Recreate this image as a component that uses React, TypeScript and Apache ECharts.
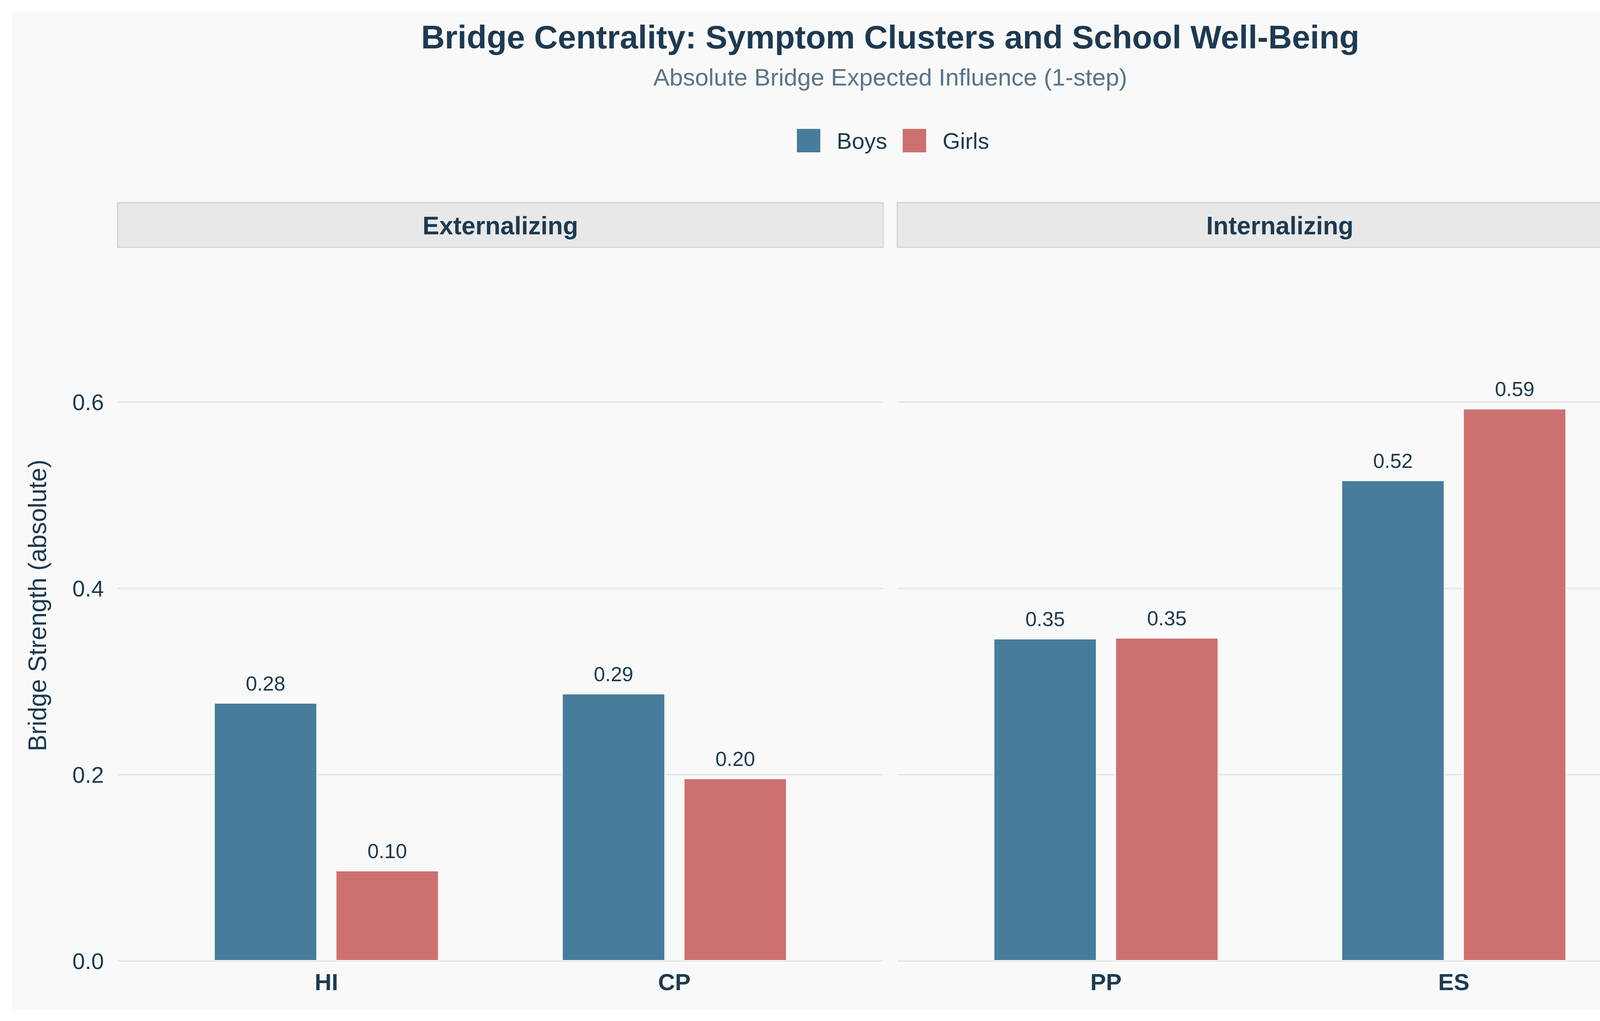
import { useEffect, useRef } from "react";
import * as echarts from "echarts";

// facet panels and their symptom clusters
const facets = ["Externalizing", "Internalizing"];
const categoriesExt = ["HI", "CP"];
const categoriesInt = ["PP", "ES"];

// bridge strength values
const boysExt = [0.277, 0.287];
const girlsExt = [0.097, 0.196];
const boysInt = [0.346, 0.516];
const girlsInt = [0.347, 0.593];

const groups = ["Boys", "Girls"];
const yTickMax = 0.6;
const yTickStep = 0.2;

const FONT = "'Liberation Sans', Arial, Helvetica, sans-serif";
const NAVY = "#1d3a51";
const BLUE = "#477d9b";
const RED = "#cc7170";
const GRID = "#e3e3e3";

// layout (px)
const PANEL_TOP = 1029.5;
const PANEL_BOTTOM = 2460;
const panelsX = [
    { left: 301, right: 2261 },
    { left: 2297, right: 4256 },
];

const panels = [
    { cats: categoriesExt, boys: boysExt, girls: girlsExt },
    { cats: categoriesInt, boys: boysInt, girls: girlsInt },
];

export default function App() {
    const chartRef = useRef<HTMLDivElement | null>(null);

    useEffect(() => {
        document.body.style.margin = "0";
        if (!chartRef.current) return;
        const chart = echarts.init(chartRef.current, undefined, { renderer: "svg" });

        const stripGraphics: any[] = [];
        facets.forEach((name, i) => {
            const p = panelsX[i];
            stripGraphics.push({
                type: "rect",
                shape: { x: p.left, y: 519, width: p.right - p.left, height: 114 },
                style: { fill: "#e8e8e8", stroke: "#d4d4d4", lineWidth: 3 },
            });
            stripGraphics.push({
                type: "text",
                x: (p.left + p.right) / 2,
                y: 578,
                style: {
                    text: name,
                    fontSize: 64,
                    fontWeight: "bold",
                    fontFamily: FONT,
                    fill: NAVY,
                    align: "center",
                    verticalAlign: "middle",
                },
            });
        });

        const series: any[] = [];
        panels.forEach((p, i) => {
            [p.boys, p.girls].forEach((vals, g) => {
                series.push({
                    name: groups[g],
                    type: "bar",
                    xAxisIndex: i,
                    yAxisIndex: i,
                    barWidth: 264,
                    barGap: "18%",
                    data: vals.map((v, j) => [j + 1, v]),
                    itemStyle: { color: g === 0 ? BLUE : RED, borderColor: "#ffffff", borderWidth: 2 },
                    label: {
                        show: true,
                        position: "top",
                        distance: 24,
                        fontSize: 52,
                        fontFamily: FONT,
                        color: NAVY,
                        formatter: (d: any) => d.value[1].toFixed(2),
                    },
                });
            });
        });

        const option: any = {
            animation: false,
            backgroundColor: "#ffffff",
            textStyle: { fontFamily: FONT },
            graphic: [
                {
                    type: "rect",
                    z: -10,
                    shape: { x: 31, y: 28, width: 4262, height: 2558 },
                    style: { fill: "#f9f9f9" },
                },
                {
                    type: "text",
                    x: 2279,
                    y: 95,
                    style: {
                        text: "Bridge Centrality: Symptom Clusters and School Well-Being",
                        fontSize: 84,
                        fontWeight: "bold",
                        fontFamily: FONT,
                        fill: NAVY,
                        align: "center",
                        verticalAlign: "middle",
                    },
                },
                {
                    type: "text",
                    x: 2279,
                    y: 197,
                    style: {
                        text: "Absolute Bridge Expected Influence (1-step)",
                        fontSize: 62,
                        fontFamily: FONT,
                        fill: "#5b7387",
                        align: "center",
                        verticalAlign: "middle",
                    },
                },
                {
                    type: "text",
                    x: 96,
                    y: 1550,
                    rotation: Math.PI / 2,
                    style: {
                        text: "Bridge Strength (absolute)",
                        fontSize: 64,
                        fontFamily: FONT,
                        fill: NAVY,
                        align: "center",
                        verticalAlign: "middle",
                    },
                },
                ...stripGraphics,
            ],
            legend: {
                data: groups,
                left: 2035,
                top: 325,
                icon: "rect",
                itemWidth: 60,
                itemHeight: 60,
                itemGap: 40,
                itemStyle: { borderWidth: 0 },
                textStyle: { fontSize: 58, color: NAVY, fontFamily: FONT, padding: [0, 0, 0, 37] },
            },
            grid: panelsX.map((p) => ({
                left: p.left,
                top: PANEL_TOP,
                width: p.right - p.left,
                height: PANEL_BOTTOM - PANEL_TOP,
            })),
            xAxis: panels.map((p, i) => ({
                type: "value",
                gridIndex: i,
                min: 0.4,
                max: 2.6,
                axisLine: { show: false },
                axisTick: { show: false },
                splitLine: { show: false },
                axisLabel: {
                    customValues: p.cats.map((_, j) => j + 1),
                    formatter: (v: number) => p.cats[Math.round(v) - 1] ?? "",
                    fontSize: 60,
                    fontWeight: "bold",
                    color: NAVY,
                    margin: 24,
                },
            })),
            yAxis: panels.map((_, i) => ({
                type: "value",
                gridIndex: i,
                min: 0,
                max: yTickMax,
                interval: yTickStep,
                axisLine: { show: false },
                axisTick: { show: false },
                splitLine: { show: true, lineStyle: { color: GRID, width: 3 } },
                axisLabel: {
                    show: i === 0,
                    fontSize: 58,
                    color: NAVY,
                    margin: 35,
                    formatter: (v: number) => v.toFixed(1),
                },
            })),
            series,
        };

        chart.setOption(option);

        return () => {
            chart.dispose();
        };
    }, []);

    return <div ref={chartRef} style={{ width: "4320px", height: "2614px" }} />;
}
